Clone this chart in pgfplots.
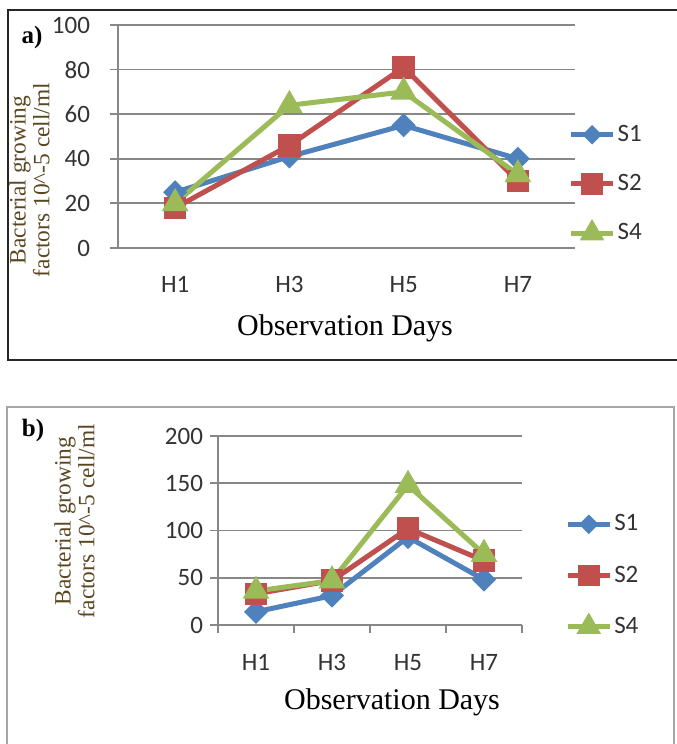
\documentclass[border=0pt]{standalone}
\usepackage{fontspec}
\setmainfont{Liberation Serif}
\newfontfamily\calib{Carlito}
\usepackage{pgfplots}
\pgfplotsset{compat=1.18}
\definecolor{sone}{HTML}{4F81BD}
\definecolor{stwo}{HTML}{C0504D}
\definecolor{sfour}{HTML}{9BBB59}
\definecolor{gridgray}{HTML}{878787}
\definecolor{labbrown}{HTML}{5A4722}

\pgfplotsset{
  bact/.style={
    scale only axis, anchor=south west,
    xmin=-0.5, xmax=3.5, ymin=0,
    axis lines*=left,
    axis line style={gridgray, line width=0.9pt},
    ymajorgrids, grid style={gridgray, line width=0.9pt},
    tick style={gridgray, line width=0.9pt},
    tick align=outside, major tick length=4pt,
    ticklabel style={font=\calib\fontsize{12.5}{13}\selectfont, text=black!80},
    /pgf/number format/assume math mode=true,
    every axis plot/.append style={line width=2.5pt},
    legend cell align=left,
    legend image code/.code={\draw[mark repeat=2,mark phase=2] plot coordinates {(0pt,0pt)(10.5pt,0pt)(21pt,0pt)};},
    legend style={draw=none, fill=none, inner sep=0pt, anchor=west,
      font=\calib\fontsize{12.5}{13}\selectfont, text=black!80,
      nodes={inner sep=1pt}},
  },
  sonestyle/.style={sone, mark=square*, mark size=3pt, mark options={rotate=45, fill=sone}},
  stwostyle/.style={stwo, mark=square*, mark size=4.4pt, mark options={fill=stwo}},
  sfourstyle/.style={sfour, mark=triangle*, mark size=5.2pt, mark options={fill=sfour}},
  bactlegend/.style={forget plot},
}

\begin{document}
\begin{tikzpicture}
\path[use as bounding box] (0,0) rectangle (338pt,372pt);

% frames
\draw[black!85, line width=1.25pt] (340pt,367pt) -- (4pt,367pt) -- (4pt,192pt) -- (340pt,192pt);
\draw[black!35, line width=1pt] (3.5pt,-2pt) -- (3.5pt,168.5pt) -- (337pt,168.5pt) -- (337pt,-2pt);

% panel a
\begin{axis}[bact, at={(59pt,248pt)}, width=228.5pt, height=111.5pt,
  ymax=100, ytick={0,20,40,60,80,100},
  yticklabel style={xshift=-6.5pt},
  xtick={0,1,2,3}, xticklabels={H1,H3,H5,H7}, x tick style={draw=none},
  xticklabel style={yshift=-6.5pt},
  legend style={at={(rel axis cs:0.985,0.287)}, row sep=13pt}]
\addlegendimage{sonestyle, line width=2.5pt, mark size=2.2pt}
\addlegendimage{stwostyle, line width=2.5pt, mark size=4.2pt}
\addlegendimage{sfourstyle, line width=2.5pt, mark size=4.6pt}
\addplot[sonestyle, forget plot] coordinates {(0,25) (1,41) (2,55) (3,40)};
\addplot[stwostyle, forget plot] coordinates {(0,18) (1,46) (2,81) (3,30)};
\addplot[sfourstyle, forget plot] coordinates {(0,20) (1,64) (2,70) (3,33)};
\legend{S1,S2,S4}
\end{axis}
\node[font=\bfseries\fontsize{12.5}{13}\selectfont] at (16pt,353.5pt) {a)};
\node[rotate=90, align=center, text=labbrown, font=\fontsize{11.7}{10.5}\selectfont] at (14.75pt,282pt) {Bacterial growing\\factors 10\textasciicircum{}-5 cell/ml};
\node[font=\fontsize{15}{16}\selectfont] at (172.5pt,208pt) {Observation Days};

% panel b
\begin{axis}[bact, at={(109pt,59.5pt)}, width=152pt, height=94.5pt,
  ymax=200, ytick={0,50,100,150,200},
  xtick={-0.5,0.5,1.5,2.5,3.5}, xticklabels={},
  extra x ticks={0,1,2,3}, extra x tick labels={H1,H3,H5,H7},
  extra x tick style={major tick length=0pt, xticklabel style={yshift=-11pt}},
  legend style={at={(rel axis cs:1.141,0.262)}, row sep=14pt}]
\addlegendimage{sonestyle, line width=2.5pt, mark size=2.2pt}
\addlegendimage{stwostyle, line width=2.5pt, mark size=4.2pt}
\addlegendimage{sfourstyle, line width=2.5pt, mark size=4.6pt}
\addplot[sonestyle, forget plot] coordinates {(0,14) (1,31) (2,93) (3,48)};
\addplot[stwostyle, forget plot] coordinates {(0,33) (1,47) (2,102) (3,68)};
\addplot[sfourstyle, forget plot] coordinates {(0,36) (1,47) (2,148) (3,75)};
\legend{S1,S2,S4}
\end{axis}
\node[font=\bfseries\fontsize{12.5}{13}\selectfont] at (16.5pt,157pt) {b)};
\node[rotate=90, align=center, text=labbrown, font=\fontsize{11.7}{10.5}\selectfont] at (37.25pt,111.5pt) {Bacterial growing\\factors 10\textasciicircum{}-5 cell/ml};
\node[font=\fontsize{15}{16}\selectfont] at (196pt,21pt) {Observation Days};
\end{tikzpicture}
\end{document}
